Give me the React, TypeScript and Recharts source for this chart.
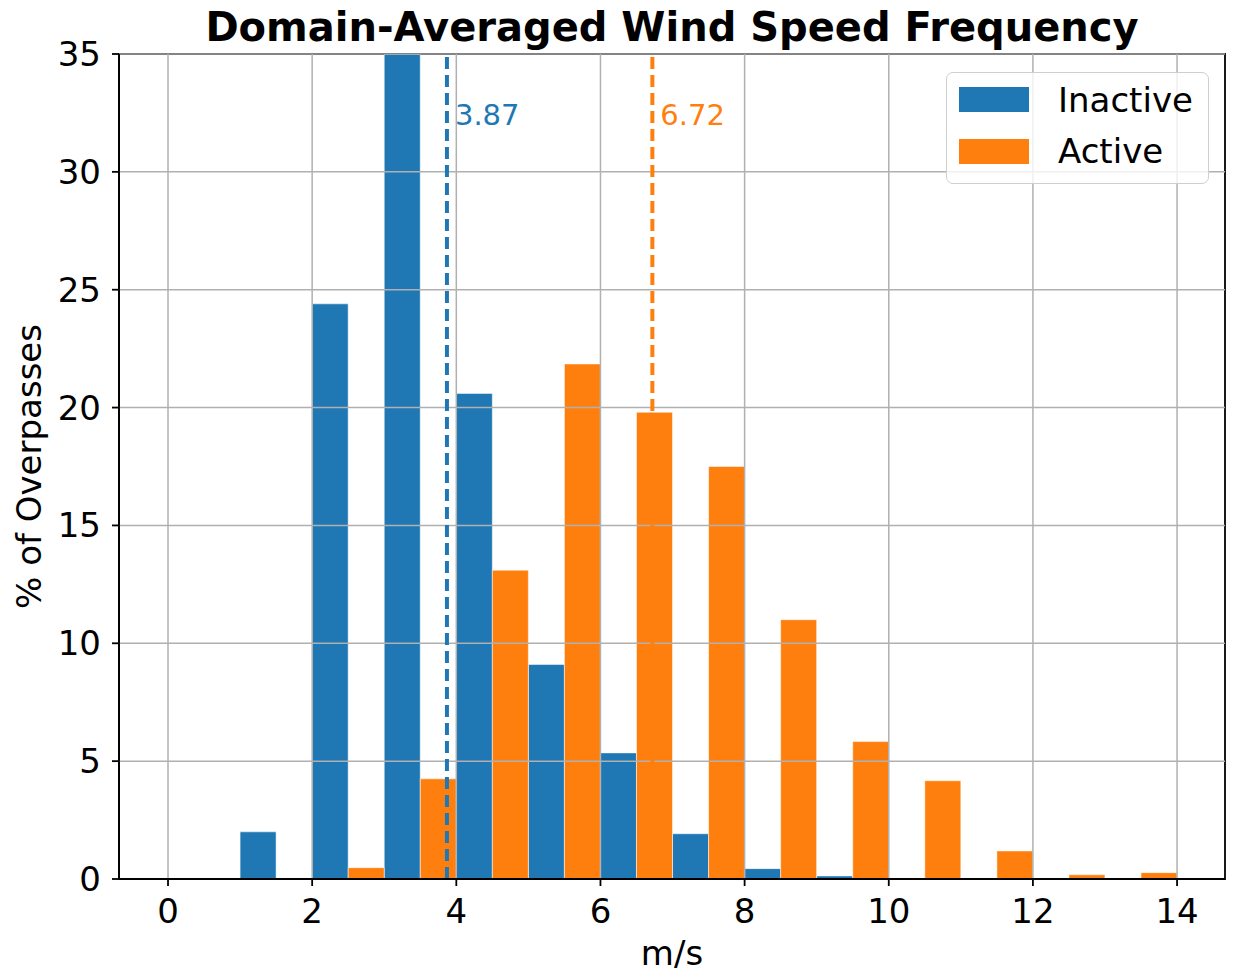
import React from 'react';
import { ComposedChart, Bar, XAxis, YAxis, ReferenceLine, ReferenceArea } from 'recharts';

const inactiveBins = [1, 2, 3, 4, 5, 6, 7, 8, 9, 10];
const inactiveValues = [2.0, 24.4, 36.0, 20.6, 9.1, 5.35, 1.92, 0.44, 0.13, 0.04];
const activeBins = [2, 3, 4, 5, 6, 7, 8, 9, 10, 11, 12, 13];
const activeValues = [0.48, 4.25, 13.1, 21.85, 19.8, 17.5, 11.0, 5.83, 4.17, 1.19, 0.18, 0.27];
const xTicks = [0, 2, 4, 6, 8, 10, 12, 14];
const yTicks = [0, 5, 10, 15, 20, 25, 30, 35];
const seriesNames = ['Inactive', 'Active'];
const seriesColors = ['#1f77b4', '#ff7f0e'];
const meanValues = [3.87, 6.72];

const X_DOMAIN: [number, number] = [-0.68, 14.665];
const Y_DOMAIN: [number, number] = [0, 35];

const FONT = '"DejaVu Sans", sans-serif';

const data = [
  ...inactiveBins.map((b, i) => ({ x: b + 0.25, inactive: inactiveValues[i] })),
  ...activeBins.map((b, i) => ({ x: b + 0.75, active: activeValues[i] })),
].sort((a, b) => a.x - b.x);

const MeanLabel = (color: string, text: string) => (props: any) => {
  const vb = props.viewBox || {};
  return (
    <text x={vb.x + 8} y={vb.y + 71} fill={color} fontSize={29} fontFamily={FONT}>
      {text}
    </text>
  );
};

const YLabel = (props: any) => {
  const vb = props.viewBox || {};
  const cy = vb.y + vb.height / 2;
  return (
    <text
      x={29}
      y={cy}
      transform={`rotate(-90, 29, ${cy})`}
      textAnchor="middle"
      dominantBaseline="central"
      fontSize={34}
      fontFamily={FONT}
      fill="#000"
    >
      % of Overpasses
    </text>
  );
};

const XLabel = (props: any) => {
  const vb = props.viewBox || {};
  return (
    <text x={vb.x + vb.width / 2} y={965} textAnchor="middle" fontSize={34} fontFamily={FONT} fill="#000">
      m/s
    </text>
  );
};

export default function App() {
  return (
    <div style={{ position: 'absolute', left: 0, top: 0, width: 1233, height: 976, background: '#fff' }}>
      <div
        style={{
          position: 'absolute',
          left: 119,
          width: 1106,
          top: 4,
          textAlign: 'center',
          fontFamily: FONT,
          fontWeight: 'bold',
          fontSize: 40,
          lineHeight: '46px',
        }}
      >
        Domain-Averaged Wind Speed Frequency
      </div>
      <ComposedChart
        width={1233}
        height={976}
        data={data}
        margin={{ top: 54, right: 8, bottom: 37, left: 49 }}
        barGap={0}
        barCategoryGap={0}
      >
        <XAxis
          xAxisId="x"
          dataKey="x"
          type="number"
          domain={X_DOMAIN}
          ticks={xTicks}
          allowDataOverflow
          height={60}
          tickSize={7}
          tickMargin={13}
          tick={{ fontSize: 34, fontFamily: FONT, fill: '#000' }}
          tickLine={{ stroke: '#000', strokeWidth: 1.8 }}
          axisLine={{ stroke: '#000', strokeWidth: 1.8 }}
          label={<XLabel />}
        />
        <YAxis
          yAxisId="y"
          type="number"
          domain={Y_DOMAIN}
          ticks={yTicks}
          allowDataOverflow
          width={70}
          tickSize={7}
          tickMargin={11}
          tick={{ fontSize: 34, fontFamily: FONT, fill: '#000' }}
          tickLine={{ stroke: '#000', strokeWidth: 1.8 }}
          axisLine={{ stroke: '#000', strokeWidth: 1.8 }}
          label={<YLabel />}
        />
        <Bar
          xAxisId="x"
          yAxisId="y"
          dataKey="inactive"
          name={seriesNames[0]}
          stackId="s"
          fill={seriesColors[0]}
          stroke="#ffffff"
          strokeOpacity={0.5}
          strokeWidth={1}
          barSize={36}
          isAnimationActive={false}
        />
        <Bar
          xAxisId="x"
          yAxisId="y"
          dataKey="active"
          name={seriesNames[1]}
          stackId="s"
          fill={seriesColors[1]}
          stroke="#ffffff"
          strokeOpacity={0.5}
          strokeWidth={1}
          barSize={36}
          isAnimationActive={false}
        />
        {xTicks.map((t) => (
          <ReferenceLine key={'gx' + t} xAxisId="x" yAxisId="y" x={t} stroke="#b0b0b0" strokeWidth={1.5} />
        ))}
        {yTicks.map((t) => (
          <ReferenceLine key={'gy' + t} xAxisId="x" yAxisId="y" y={t} stroke="#b0b0b0" strokeWidth={1.5} />
        ))}
        {meanValues.map((m, i) => (
          <ReferenceLine
            key={'m' + i}
            xAxisId="x"
            yAxisId="y"
            x={m}
            stroke={seriesColors[i]}
            strokeWidth={4}
            strokeDasharray="12 6"
            label={MeanLabel(seriesColors[i], m.toFixed(2))}
          />
        ))}
        <ReferenceArea
          xAxisId="x"
          yAxisId="y"
          x1={X_DOMAIN[0]}
          x2={X_DOMAIN[1]}
          y1={Y_DOMAIN[0]}
          y2={Y_DOMAIN[1]}
          fill="none"
          fillOpacity={0}
          stroke="#000"
          strokeWidth={1.8}
          strokeOpacity={1}
        />
      </ComposedChart>
      <div
        style={{
          position: 'absolute',
          left: 946,
          top: 72,
          width: 263,
          height: 112,
          border: '1.5px solid #cfcfcf',
          borderRadius: 7,
          background: 'rgba(255,255,255,0.8)',
          boxSizing: 'border-box',
          fontFamily: FONT,
          fontSize: 34,
        }}
      >
        {seriesNames.map((n, i) => (
          <div
            key={n}
            style={{ position: 'absolute', left: 12, top: 6.5 + i * 51.5, height: 40, display: 'flex', alignItems: 'center' }}
          >
            <div style={{ width: 70, height: 25, background: seriesColors[i] }} />
            <span style={{ marginLeft: 29, lineHeight: '40px' }}>{n}</span>
          </div>
        ))}
      </div>
    </div>
  );
}
